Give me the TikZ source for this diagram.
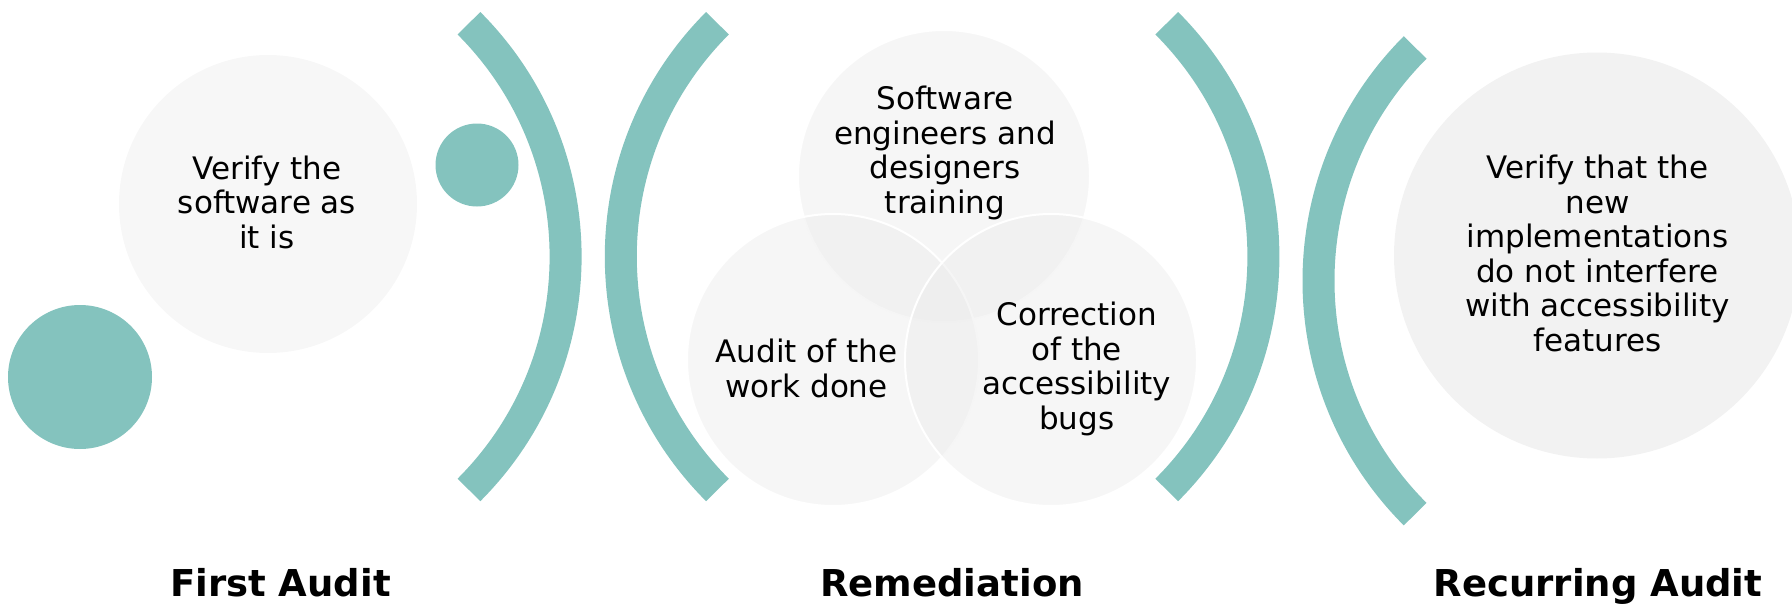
\documentclass[tikz,border=0pt]{standalone}
\usepackage{fontspec}
\setmainfont{DejaVu Sans}
\definecolor{tealA}{HTML}{84C3BE}
\definecolor{lightA}{HTML}{F7F7F7}
\definecolor{lightB}{HTML}{F2F2F2}
\definecolor{vennfill}{HTML}{EBEBEB}
\tikzset{
  dot/.style={circle, fill=tealA, inner sep=0, minimum size=#1},
  bubble/.style={circle, inner sep=0, minimum size=#1},
  venn/.style={circle, inner sep=0, minimum size=292, fill=vennfill, fill opacity=0.45, draw=white, line width=2},
  txt/.style={align=center, inner sep=0, font=\fontsize{31}{34.5}\selectfont,
    execute at begin node=\strut, execute at end node=\strut},
  phase/.style={anchor=base, inner sep=0, font=\bfseries\fontsize{37}{42}\selectfont},
  bracket/.style={draw=tealA, line width=32}
}
\begin{document}
\begin{tikzpicture}[x=1pt,y=-1pt]
\useasboundingbox (0,0) rectangle (1792,605);

% First Audit
\node[bubble=298, fill=lightA] (c1) at (268,204) {};
\node[dot=144] (tbig) at (80,377) {};
\node[dot=83] (tsmall) at (477,165) {};
\node[txt] (c1t) at (267,207.3) {Verify the\\software as\\it is};

% brackets
\coordinate (b1c) at (235.6,256.6);
\coordinate (b2c) at (950.8,256.6);
\coordinate (b3c) at (933.4,256.6);
\coordinate (b4c) at (1648.5,280.8);
\draw[bracket] (b1c) ++(-45:330) arc[start angle=-45, end angle=45, radius=330];
\draw[bracket] (b2c) ++(135:330) arc[start angle=135, end angle=225, radius=330];
\draw[bracket] (b3c) ++(-45:330) arc[start angle=-45, end angle=45, radius=330];
\draw[bracket] (b4c) ++(135:330) arc[start angle=135, end angle=225, radius=330];

% Remediation venn
\node[venn] (v1) at (944,176) {};
\node[venn] (v2) at (833,360) {};
\node[venn] (v3) at (1051,360) {};
\node[txt] (v1t) at (945,154.9) {Software\\engineers and\\designers\\training};
\node[txt] (v2t) at (806.6,373.5) {Audit of the\\work done};
\node[txt] (v3t) at (1076.6,370.9) {Correction\\of the\\accessibility\\bugs};

% Recurring Audit
\node[bubble=406, fill=lightB] (c2) at (1597,255.5) {};
\node[txt] (c2t) at (1597.5,258.6) {Verify that the\\new\\implementations\\do not interfere\\with accessibility\\features};

% phase labels
\node[phase] (p1) at (280.5,596) {First Audit};
\node[phase] (p2) at (952,596) {Remediation};
\node[phase] (p3) at (1598,596) {Recurring Audit};
\end{tikzpicture}
\end{document}
